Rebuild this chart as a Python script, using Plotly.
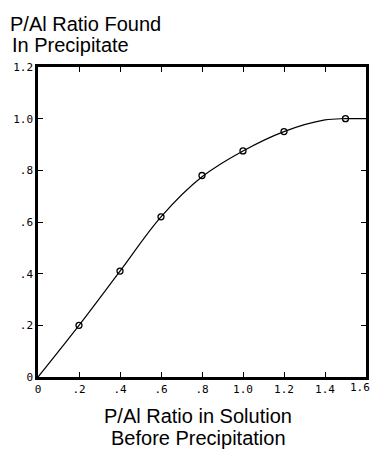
import plotly.graph_objects as go

# Data
x_pts = [0.2, 0.4, 0.6, 0.8, 1.0, 1.2, 1.5]
y_pts = [0.20, 0.41, 0.62, 0.78, 0.875, 0.95, 1.0]
x_curve = [0.0, 0.2, 0.4, 0.6, 0.8, 1.0, 1.2, 1.4, 1.5, 1.6]
y_curve = [0.0, 0.20, 0.41, 0.62, 0.775, 0.875, 0.95, 0.995, 1.0, 1.0]
x_ticks = [0, 0.2, 0.4, 0.6, 0.8, 1.0, 1.2, 1.4, 1.6]
x_tick_labels = ["0", ".2", ".4", ".6", ".8", "1.0", "1.2", "1.4", "1.6"]
y_ticks = [0, 0.2, 0.4, 0.6, 0.8, 1.0, 1.2]
y_tick_labels = ["0", ".2", ".4", ".6", ".8", "1.0", "1.2"]

fig = go.Figure()
fig.add_trace(go.Scatter(x=x_curve, y=y_curve, mode="lines",
                         line=dict(color="black", width=1.2, shape="spline", smoothing=1.0),
                         hoverinfo="skip", showlegend=False))
fig.add_trace(go.Scatter(x=x_pts, y=y_pts, mode="markers",
                         marker=dict(symbol="circle-open", size=6, color="black", line=dict(width=1.3)),
                         showlegend=False))

mono = dict(family="DejaVu Sans Mono", size=11, color="black")
fig.update_xaxes(range=[0, 1.6], tickvals=x_ticks[:-1], ticktext=x_tick_labels[:-1],
                 ticks="inside", ticklen=5, tickcolor="black", tickwidth=1.2,
                 showline=True, linecolor="black", linewidth=2.5, mirror="ticks",
                 showgrid=False, zeroline=False, tickfont=mono, automargin=False)
fig.update_yaxes(range=[0, 1.2], tickvals=y_ticks, ticktext=y_tick_labels,
                 ticks="inside", ticklen=5, tickcolor="black", tickwidth=1.2,
                 showline=True, linecolor="black", linewidth=2.5, mirror="ticks",
                 showgrid=False, zeroline=False, tickfont=mono, automargin=False)

sans = dict(family="Liberation Sans", size=20, color="black")
fig.update_layout(
    width=374, height=449,
    margin=dict(l=38, r=8, t=67, b=72),
    plot_bgcolor="white", paper_bgcolor="white",
    annotations=[
        dict(text=x_tick_labels[-1], xref="x", yref="paper", x=x_ticks[-1], y=0,
             xanchor="right", yanchor="top", xshift=6, yshift=-2, showarrow=False, font=mono),
        dict(text="P/Al Ratio Found", xref="paper", yref="paper", x=(8 - 38) / 328, y=(377 - 24) / 310,
             xanchor="left", yanchor="middle", showarrow=False, font=sans),
        dict(text="In Precipitate", xref="paper", yref="paper", x=(10 - 38) / 328, y=(377 - 45) / 310,
             xanchor="left", yanchor="middle", showarrow=False, font=sans),
        dict(text="P/Al Ratio in Solution", xref="paper", yref="paper", x=(198 - 38) / 328, y=(377 - 416) / 310,
             xanchor="center", yanchor="middle", showarrow=False, font=sans),
        dict(text="Before Precipitation", xref="paper", yref="paper", x=(198 - 38) / 328, y=(377 - 438) / 310,
             xanchor="center", yanchor="middle", showarrow=False, font=sans),
    ],
)

fig.write_html("out.html")
